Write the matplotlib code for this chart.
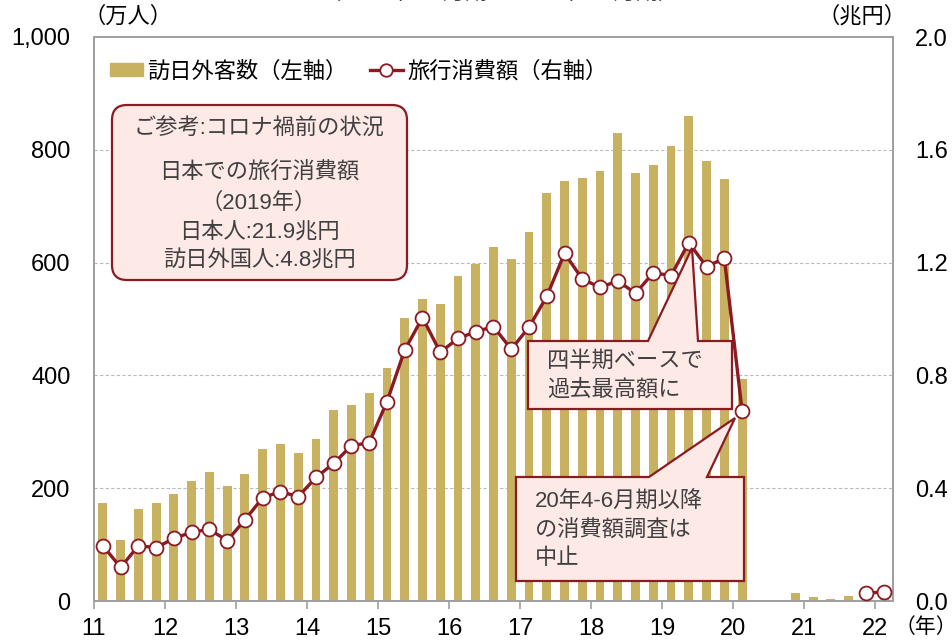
import numpy as np
import matplotlib
matplotlib.use("Agg")
import matplotlib.pyplot as plt
from matplotlib.patches import Polygon, FancyBboxPatch, Patch
from matplotlib.lines import Line2D
from matplotlib.ticker import FuncFormatter

plt.rcParams['font.family'] = ['Liberation Sans', 'Noto Sans CJK JP']

# quarterly data, 2011 Q1 .. 2022 Q1
year_labels = ['11', '12', '13', '14', '15', '16', '17', '18', '19', '20', '21', '22']
visitors = [174, 108, 164, 173, 190, 213, 228, 204, 226, 270, 278, 263,
            287, 339, 348, 368, 414, 502, 535, 526, 576, 597, 627, 607,
            654, 723, 745, 750, 763, 829, 758, 773, 807, 860, 780, 748,
            394, 0.7, 2.6, 14.3, 6.6, 3.0, 9.5, 5.5, 10.1]  # 万人
nan = np.nan
spending = [0.196, 0.119, 0.196, 0.189, 0.222, 0.244, 0.254, 0.214,
            0.288, 0.366, 0.388, 0.370, 0.438, 0.488, 0.551, 0.561,
            0.707, 0.890, 1.005, 0.882, 0.931, 0.955, 0.973, 0.893,
            0.971, 1.080, 1.233, 1.142, 1.112, 1.135, 1.091, 1.164,
            1.154, 1.271, 1.185, 1.216, 0.674, nan, nan, nan,
            nan, nan, nan, 0.027, 0.033]  # 兆円

gold = '#C9B162'
red = '#8B1A22'
pink = '#FDE9E6'
txt = '#404040'

W, H = 953, 641
fig = plt.figure(figsize=(W / 100, H / 100), dpi=100)
ax = fig.add_axes([94 / W, (H - 601) / H, (893 - 94) / W, (601 - 37) / H])
ax2 = ax.twinx()

x = np.arange(len(visitors)) + 0.5
ax.bar(x, visitors, width=0.5, color=gold, zorder=2)
ax2.plot(x, spending, color=red, lw=2.4, marker='o', ms=10,
         mfc='white', mec=red, mew=1.3, zorder=3)

ax.set_xlim(0, len(visitors))
ax.set_ylim(0, 1000)
ax2.set_ylim(0, 2.0)
ax.set_xticks(np.arange(0, len(visitors), 4))
ax.set_xticklabels(year_labels)
ax.set_yticks(np.arange(0, 1001, 200))
ax.yaxis.set_major_formatter(FuncFormatter(lambda v, p: '{:,.0f}'.format(v)))
ax2.set_yticks(np.arange(0, 2.01, 0.4))
ax2.yaxis.set_major_formatter(FuncFormatter(lambda v, p: '{:.1f}'.format(v)))

for g in [200, 400, 600, 800]:
    ax.axhline(g, color='#BBBBBB', lw=0.8, ls=(0, (3, 2)), zorder=1)

for a in (ax, ax2):
    for s in a.spines.values():
        s.set_color('#A0A0A0')
        s.set_linewidth(1.3)
ax.tick_params(axis='y', length=0, pad=17, labelsize=17)
ax2.tick_params(axis='y', length=0, pad=16, labelsize=17)
ax.tick_params(axis='x', length=6, width=1.2, color='#A0A0A0', pad=6, labelsize=17)

handles = [Patch(color=gold),
           Line2D([0], [0], color=red, lw=2.4, marker='o', ms=9,
                  mfc='white', mec=red, mew=1.3)]
ax2.legend(handles, ['訪日外客数（左軸）', '旅行消費額（右軸）'],
           loc='upper left', bbox_to_anchor=(0.0, 0.985), ncol=2,
           frameon=False, fontsize=16, handlelength=1.5, handleheight=0.5,
           handletextpad=0.2, columnspacing=1.0, borderaxespad=0.3)


def px(xp, yp):
    return (xp / 100, (H - yp) / 100)


tr = fig.dpi_scale_trans

# reference box
x0, y0 = px(112, 280)
x1, y1 = px(407, 105)
box = FancyBboxPatch((x0, y0), x1 - x0, y1 - y0,
                     boxstyle='round,pad=0,rounding_size=0.15',
                     transform=tr, fc=pink, ec=red, lw=1.6, zorder=5)
fig.patches.append(box)
fig.text(*px(259, 129), 'ご参考:コロナ禍前の状況', transform=tr,
         ha='center', va='center', fontsize=16, color=txt, zorder=6)
for yy, s in zip([173, 203, 232, 261],
                 ['日本での旅行消費額', '（2019年）', '日本人:21.9兆円', '訪日外国人:4.8兆円']):
    fig.text(*px(259, yy), s, transform=tr, ha='center', va='center',
             fontsize=16, color=txt, zorder=6)

# callout: record high
c1 = Polygon([px(528, 341), px(648, 341), px(692, 248), px(698, 341),
              px(732, 341), px(732, 409), px(528, 409)],
             closed=True, transform=tr, fc=pink, ec=red, lw=1.6, zorder=5)
fig.patches.append(c1)
fig.text(*px(547, 361), '四半期ベースで', transform=tr, ha='left',
         va='center', fontsize=16, color=txt, zorder=6)
fig.text(*px(547, 390), '過去最高額に', transform=tr, ha='left',
         va='center', fontsize=16, color=txt, zorder=6)

# callout: survey suspended
c2 = Polygon([px(516, 477), px(649, 477), px(735, 418), px(707, 477),
              px(744, 477), px(744, 581), px(516, 581)],
             closed=True, transform=tr, fc=pink, ec=red, lw=1.6, zorder=5)
fig.patches.append(c2)
for yy, s in zip([502, 531, 559], ['20年4-6月期以降', 'の消費額調査は', '中止']):
    fig.text(*px(535, yy), s, transform=tr, ha='left', va='center',
             fontsize=16, color=txt, zorder=6)

# unit labels
fig.text(*px(128, 17), '（万人）', transform=tr, ha='center', va='center', fontsize=16)
fig.text(*px(862, 17), '（兆円）', transform=tr, ha='center', va='center', fontsize=16)
fig.text(*px(926, 627), '（年）', transform=tr, ha='center', va='center', fontsize=15)
# title sits above the figure edge, only its lower part is visible
fig.text(*px(500, -7), '（2011年1-3月期～2022年1-3月期）', transform=tr,
         ha='center', va='center', fontsize=16, color=txt)

fig.savefig('out.png', dpi=100)
